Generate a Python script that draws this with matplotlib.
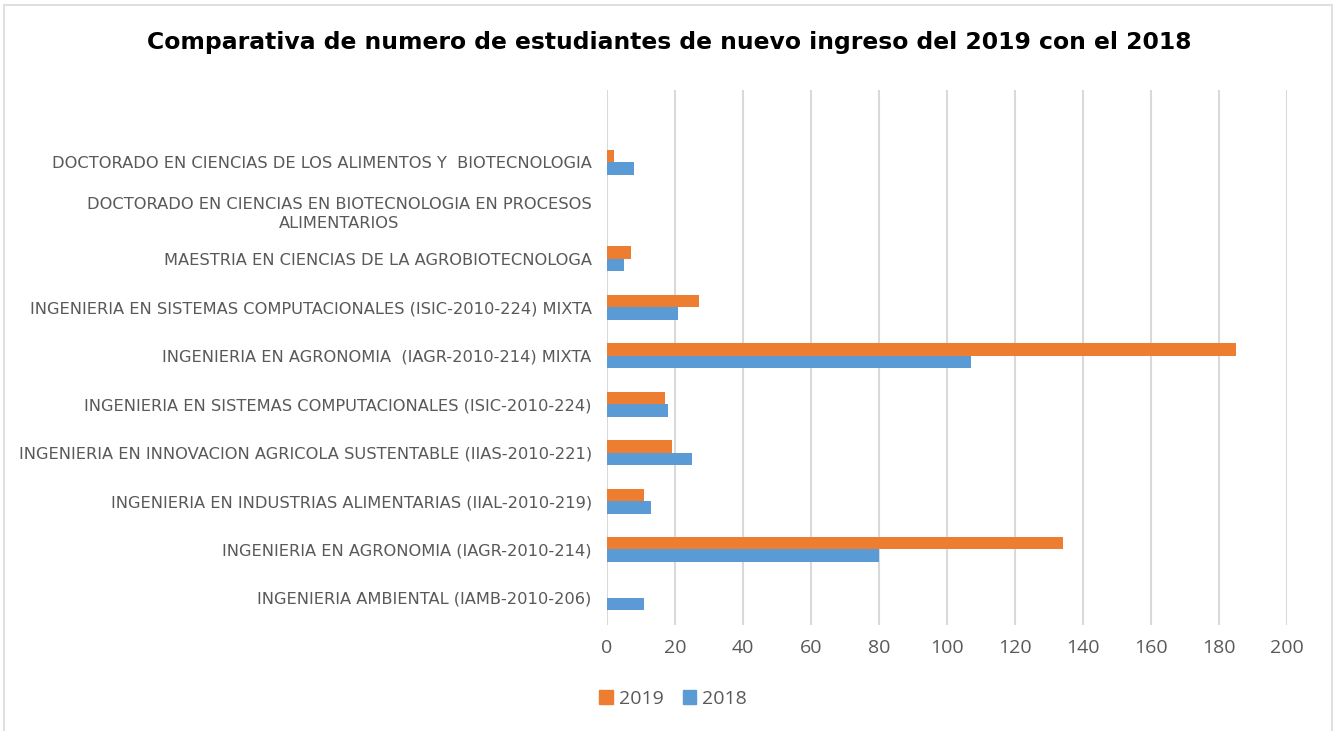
import matplotlib
matplotlib.use("Agg")
import matplotlib.pyplot as plt
import numpy as np
from matplotlib.patches import Rectangle, Patch

# categories listed top to bottom, as they appear in the chart
categories = [
    "DOCTORADO EN CIENCIAS DE LOS ALIMENTOS Y  BIOTECNOLOGIA",
    "DOCTORADO EN CIENCIAS EN BIOTECNOLOGIA EN PROCESOS\nALIMENTARIOS",
    "MAESTRIA EN CIENCIAS DE LA AGROBIOTECNOLOGA",
    "INGENIERIA EN SISTEMAS COMPUTACIONALES (ISIC-2010-224) MIXTA",
    "INGENIERIA EN AGRONOMIA  (IAGR-2010-214) MIXTA",
    "INGENIERIA EN SISTEMAS COMPUTACIONALES (ISIC-2010-224)",
    "INGENIERIA EN INNOVACION AGRICOLA SUSTENTABLE (IIAS-2010-221)",
    "INGENIERIA EN INDUSTRIAS ALIMENTARIAS (IIAL-2010-219)",
    "INGENIERIA EN AGRONOMIA (IAGR-2010-214)",
    "INGENIERIA AMBIENTAL (IAMB-2010-206)",
]
ingreso_2019 = [2, 0, 7, 27, 185, 17, 19, 11, 134, 0]
ingreso_2018 = [8, 0, 5, 21, 107, 18, 25, 13, 80, 11]
x_ticks = [0, 20, 40, 60, 80, 100, 120, 140, 160, 180, 200]

title = "Comparativa de numero de estudiantes de nuevo ingreso del 2019 con el 2018"
c2019 = "#ED7D31"
c2018 = "#5B9BD5"
grey = "#595959"

fig = plt.figure(figsize=(13.4, 7.31), dpi=100)
ax = fig.add_axes([607 / 1340, 1 - 625 / 731, 680 / 1340, 535 / 731])

y = np.arange(len(categories))
h = 0.258
ax.barh(y - h / 2, ingreso_2019, height=h, color=c2019, zorder=3)
ax.barh(y + h / 2, ingreso_2018, height=h, color=c2018, zorder=3)

ax.set_ylim(9.56, -1.49)
ax.set_xlim(0, 200)
ax.set_xticks(x_ticks)
ax.xaxis.grid(True, color="#D9D9D9", lw=1.5, zorder=0)
ax.set_axisbelow(True)
for s in ax.spines.values():
    s.set_visible(False)

ax.set_yticks(y)
ax.set_yticklabels(categories, fontsize=11.7, color=grey, family="DejaVu Sans",
                   multialignment="center", linespacing=1.35)
ax.tick_params(axis="y", length=0, pad=11)
ax.tick_params(axis="x", length=0, pad=10, labelsize=14, labelcolor=grey)
for lbl in ax.get_xticklabels():
    lbl.set_family("Open Sans")

fig.text(669 / 1340, 1 - 42 / 731, title, ha="center", va="center",
         fontsize=16.9, fontweight="bold", color="black", family="DejaVu Sans")

handles = [Patch(color=c2019, label="2019"), Patch(color=c2018, label="2018")]
fig.legend(handles=handles, loc="center", bbox_to_anchor=(673 / 1340, 1 - 699 / 731),
           ncol=2, frameon=False, handlelength=0.7, handleheight=0.7,
           handletextpad=0.3, columnspacing=1.0,
           prop={"family": "Open Sans", "size": 14}, labelcolor=grey)

fig.patches.append(Rectangle((4 / 1340, -0.05), 1328 / 1340, 1.05 - 5 / 731,
                             transform=fig.transFigure, fill=False,
                             edgecolor="#D9D9D9", lw=1.2))

fig.savefig("out.png", dpi=100)
plt.close(fig)
